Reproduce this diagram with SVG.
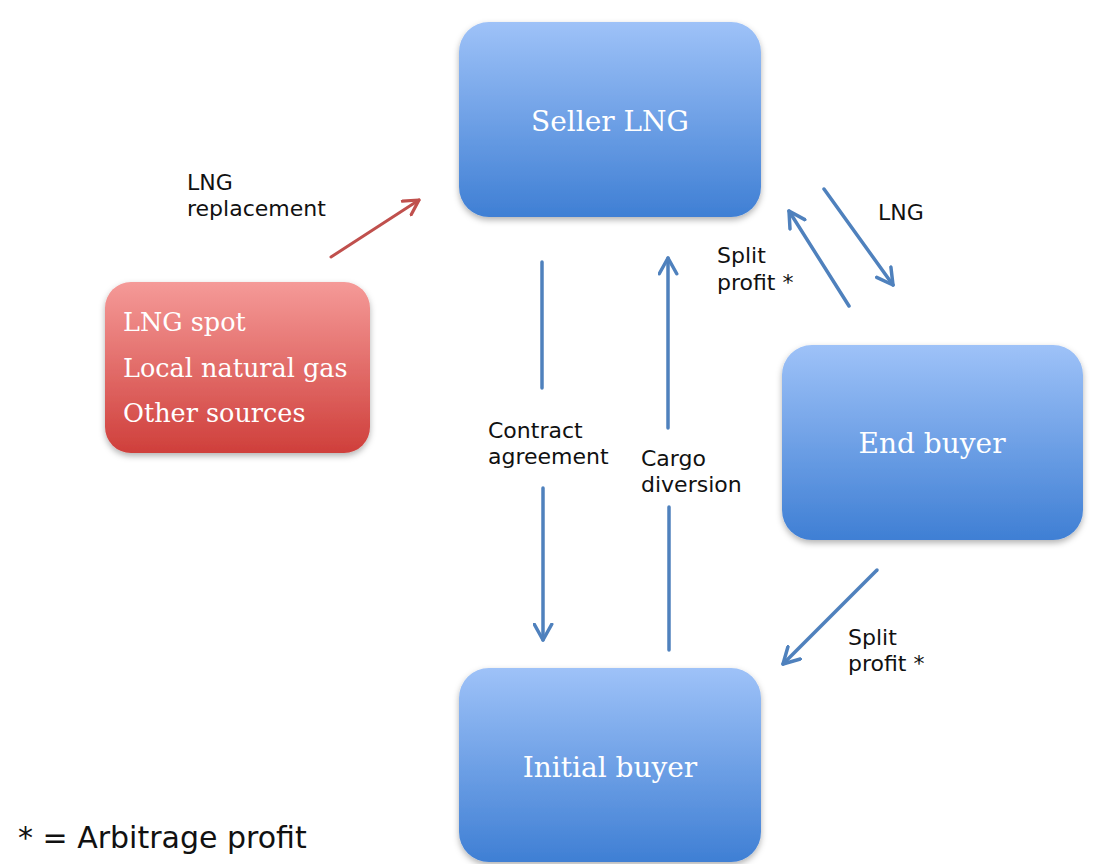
<svg xmlns="http://www.w3.org/2000/svg" width="1101" height="864" viewBox="0 0 1101 864">
<style>
.lbl{font-family:"DejaVu Sans","Liberation Sans",sans-serif;font-size:22px;fill:#111}
.ttl{font-family:"DejaVu Serif","Liberation Serif",serif;font-size:28px;fill:#fff;text-anchor:middle}
.src{font-family:"DejaVu Serif","Liberation Serif",serif;font-size:25.5px;fill:#fff}
.conn{stroke:#4f81bd;stroke-width:3.5;fill:none;stroke-linecap:round}
.connr{stroke:#c0504d;stroke-width:3;fill:none;stroke-linecap:round}
</style>
<defs>
<linearGradient id="gb" x1="0" y1="0" x2="0" y2="1">
<stop offset="0" stop-color="#9ec2f8"/>
<stop offset="1" stop-color="#3f7fd4"/>
</linearGradient>
<linearGradient id="gr" x1="0" y1="0" x2="0" y2="1">
<stop offset="0" stop-color="#f59a98"/>
<stop offset="1" stop-color="#cf3f3b"/>
</linearGradient>
<filter id="sh" x="-10%" y="-10%" width="120%" height="125%">
<feDropShadow dx="0" dy="3" stdDeviation="3" flood-color="#000" flood-opacity="0.3"/>
</filter>
<marker id="ab" viewBox="0 0 12 12" refX="10" refY="6" markerWidth="6" markerHeight="6" orient="auto" markerUnits="strokeWidth">
<path d="M1,1 L10,6 L1,11" fill="none" stroke="#4f81bd" stroke-width="2" stroke-linecap="round" stroke-linejoin="round"/>
</marker>
<marker id="ar" viewBox="0 0 12 12" refX="10" refY="6" markerWidth="6.5" markerHeight="6.5" orient="auto" markerUnits="strokeWidth">
<path d="M1,1 L10,6 L1,11" fill="none" stroke="#c0504d" stroke-width="2" stroke-linecap="round" stroke-linejoin="round"/>
</marker>
</defs>
<rect width="1101" height="864" fill="#fff"/>

<g id="seller">
<rect x="459" y="22" width="302" height="195" rx="30" fill="url(#gb)" filter="url(#sh)"/>
<text class="ttl" x="610" y="131">Seller LNG</text>
</g>
<g id="sources">
<rect x="105" y="282" width="265" height="171" rx="26" fill="url(#gr)" filter="url(#sh)"/>
<text class="src" x="123" y="331">LNG spot</text>
<text class="src" x="123" y="377">Local natural gas</text>
<text class="src" x="123" y="422">Other sources</text>
</g>
<g id="endbuyer">
<rect x="782" y="345" width="301" height="195" rx="30" fill="url(#gb)" filter="url(#sh)"/>
<text class="ttl" x="932" y="453">End buyer</text>
</g>
<g id="initialbuyer">
<rect x="459" y="668" width="302" height="194" rx="30" fill="url(#gb)" filter="url(#sh)"/>
<text class="ttl" x="610" y="777">Initial buyer</text>
</g>

<g id="connectors">
<line class="connr" x1="331" y1="257" x2="419" y2="200" marker-end="url(#ar)"/>
<line class="conn" x1="542" y1="262" x2="542" y2="388"/>
<line class="conn" x1="543" y1="488" x2="543" y2="640" marker-end="url(#ab)"/>
<line class="conn" x1="669" y1="650" x2="669" y2="507"/>
<line class="conn" x1="668" y1="428" x2="668" y2="258" marker-end="url(#ab)"/>
<line class="conn" x1="824" y1="189" x2="893" y2="285" marker-end="url(#ab)"/>
<line class="conn" x1="849" y1="306" x2="789" y2="211" marker-end="url(#ab)"/>
<line class="conn" x1="877" y1="570" x2="783" y2="664" marker-end="url(#ab)"/>
</g>

<g id="labels">
<text class="lbl" x="187" y="190">LNG</text>
<text class="lbl" x="187" y="216">replacement</text>
<text class="lbl" x="488" y="438">Contract</text>
<text class="lbl" x="488" y="464">agreement</text>
<text class="lbl" x="641" y="466">Cargo</text>
<text class="lbl" x="641" y="492">diversion</text>
<text class="lbl" x="878" y="220">LNG</text>
<text class="lbl" x="717" y="263">Split</text>
<text class="lbl" x="717" y="290">profit *</text>
<text class="lbl" x="848" y="645">Split</text>
<text class="lbl" x="848" y="671">profit *</text>
<text class="lbl" x="18" y="848" style="font-size:30px">* = Arbitrage profit</text>
</g>
</svg>
